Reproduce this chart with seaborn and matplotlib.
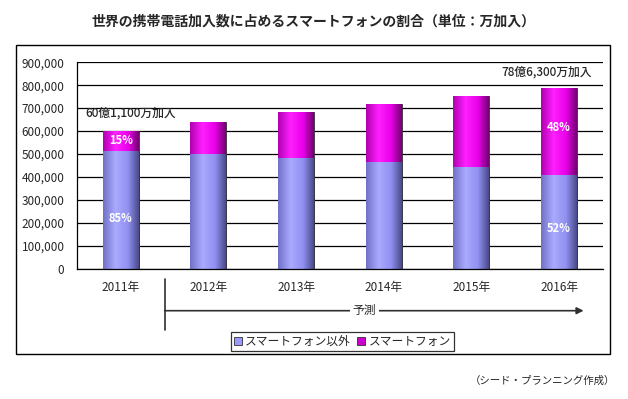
import numpy as np
import matplotlib
matplotlib.use('Agg')
import matplotlib.pyplot as plt
import seaborn as sns
from matplotlib.colors import LinearSegmentedColormap
from matplotlib.patches import Rectangle
from matplotlib.transforms import blended_transform_factory
from matplotlib.ticker import FuncFormatter, FixedLocator

# data (万加入)
years = ['2011年', '2012年', '2013年', '2014年', '2015年', '2016年']
non_smart = [511000, 501000, 481000, 464000, 442000, 409000]
smart = [90000, 137000, 200000, 256000, 313000, 377000]
totals = [a + b for a, b in zip(non_smart, smart)]
yticks = [0, 100000, 200000, 300000, 400000, 500000, 600000, 700000, 800000, 900000]

sns.set_style('white')
plt.rcParams['font.family'] = ['Noto Sans CJK JP', 'DejaVu Sans']

fig = plt.figure(figsize=(6.28, 3.99), dpi=100)
ax = fig.add_axes([0.1226, 0.327, 0.8374, 0.5169])

# totals first (magenta), then the non-smartphone part on top of it
sns.barplot(x=years, y=totals, color='#ee00ee', width=0.41, saturation=1,
            edgecolor='#303030', linewidth=0.6, ax=ax)
sns.barplot(x=years, y=non_smart, color='#9999ff', width=0.41, saturation=1,
            edgecolor='#303030', linewidth=0.6, ax=ax)

# horizontal shading on the bars
cm_mag = LinearSegmentedColormap.from_list(
    'mag', [(0, '#b000b0'), (0.35, '#ff20ff'), (0.7, '#e800e8'), (1, '#700070')])
cm_blue = LinearSegmentedColormap.from_list(
    'blu', [(0, '#7070c8'), (0.35, '#aaaaff'), (0.7, '#9090f0'), (1, '#4a4a8a')])
grad = np.linspace(0, 1, 128).reshape(1, -1)
for i, p in enumerate(ax.patches):
    cmap = cm_mag if i < len(years) else cm_blue
    x0, y0 = p.get_x(), p.get_y()
    w, h = p.get_width(), p.get_height()
    im = ax.imshow(grad, cmap=cmap, aspect='auto', extent=[x0, x0 + w, y0, y0 + h],
                   zorder=p.get_zorder() + 0.1 + (0.5 if i >= len(years) else 0))
    im.set_clip_path(p)
    p.set_zorder(p.get_zorder() + (0.5 if i >= len(years) else 0))

ax.set_xlim(-0.5, len(years) - 0.5)
ax.set_ylim(0, 900000)
ax.yaxis.set_major_locator(FixedLocator(yticks))
ax.yaxis.set_major_formatter(FuncFormatter(lambda v, _: f'{int(v):,}'))
ax.grid(axis='y', color='black', linewidth=0.9)
ax.set_axisbelow(True)
ax.set_xlabel('')
ax.set_ylabel('')
for s in ['top', 'right']:
    ax.spines[s].set_visible(False)
for s in ['left', 'bottom']:
    ax.spines[s].set_color('black')
    ax.spines[s].set_linewidth(0.9)
ax.tick_params(axis='y', length=0, pad=9, labelsize=8.5)
ax.tick_params(axis='x', length=0, pad=9, labelsize=8.5)
ax.set_xticks(range(len(years)))
ax.set_xticklabels(years)
ax.set_xticks(np.arange(0.5, len(years) - 0.5, 1), minor=True)
ax.tick_params(axis='x', which='minor', direction='in', length=4, color='black')

# percentage labels
for i in [0, len(years) - 1]:
    pct_s = round(smart[i] / totals[i] * 100)
    pct_n = round(non_smart[i] / totals[i] * 100)
    ax.text(i, non_smart[i] + smart[i] * 0.55, f'{pct_s}%', color='white',
            ha='center', va='center', fontsize=8, fontweight='bold', zorder=10)
    ax.text(i, non_smart[i] * 0.43, f'{pct_n}%', color='white',
            ha='center', va='center', fontsize=8, fontweight='bold', zorder=10)

ax.text(-0.41, 679000, '60億1,100万加入', ha='left', va='center', fontsize=8.5,
        fontweight='medium')
ax.text(5.37, 858000, '78億6,300万加入', ha='right', va='center', fontsize=8.5,
        fontweight='medium')

# forecast arrow below the axis
tr = blended_transform_factory(ax.transData, fig.transFigure)
ax.plot([0.5, 0.5], [0.1729, 0.3008], color='#303030', linewidth=1.2,
        transform=tr, clip_on=False)
ax.annotate('', xy=(5.28, 0.2213), xytext=(0.5, 0.2213), xycoords=tr, textcoords=tr,
            arrowprops=dict(arrowstyle='-|>', color='#303030', lw=1.2,
                            mutation_scale=10, shrinkA=0, shrinkB=0),
            annotation_clip=False)
ax.text(2.78, 0.2213, '予測', transform=tr, ha='center', va='center', fontsize=8.5,
        bbox=dict(facecolor='white', edgecolor='none', pad=2))

# outer frame
fig.add_artist(Rectangle((0.0255, 0.1128), 0.946, 0.774, transform=fig.transFigure,
                         fill=False, edgecolor='black', linewidth=1))

handles = [Rectangle((0, 0), 1, 1, facecolor='#9999ff', edgecolor='#303030', linewidth=0.6),
           Rectangle((0, 0), 1, 1, facecolor='#cc00cc', edgecolor='#303030', linewidth=0.6)]
leg = fig.legend(handles, ['スマートフォン以外', 'スマートフォン'], ncol=2,
                 loc='center', bbox_to_anchor=(0.545, 0.1436), fontsize=8.5,
                 frameon=True, fancybox=False, handlelength=0.7, handleheight=0.7,
                 handletextpad=0.3, columnspacing=0.5, borderpad=0.25,
                 borderaxespad=0)
leg.get_frame().set_edgecolor('black')
leg.get_frame().set_linewidth(0.9)

fig.text(0.5, 0.947, '世界の携帯電話加入数に占めるスマートフォンの割合（単位：万加入）',
         ha='center', va='center', fontsize=10, fontweight='bold')
fig.text(0.979, 0.045, '（シード・プランニング作成）', ha='right', va='center', fontsize=7.5)

fig.savefig('out.png', dpi=100, facecolor='white')
